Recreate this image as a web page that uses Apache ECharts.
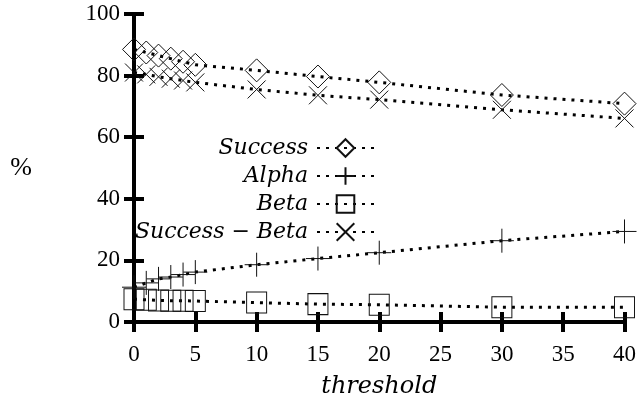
<!DOCTYPE html>
<html>
<head>
<meta charset="utf-8">
<script src="https://cdn.jsdelivr.net/npm/echarts@6/dist/echarts.min.js"></script>
<style>
html,body{margin:0;padding:0;background:#fff;}
#chart{width:639px;height:404px;}
</style>
</head>
<body>
<div id="chart"></div>
<script>
const thresholds = [0, 1, 2, 3, 4, 5, 10, 15, 20, 30, 40];
const success = [88.5, 87.5, 86.5, 85.5, 84.5, 83.5, 81.7, 79.7, 77.8, 73.7, 70.9];
const alpha = [11.3, 12.7, 14.0, 14.6, 15.4, 16.2, 18.6, 20.6, 22.5, 26.4, 29.4];
const beta = [7.4, 7.2, 7.0, 6.9, 6.9, 6.8, 6.3, 5.8, 5.6, 4.8, 4.8];
const successMinusBeta = [81.0, 80.4, 79.6, 79.0, 78.4, 77.8, 75.5, 73.6, 72.2, 68.9, 66.1];
const xTicks = [0, 5, 10, 15, 20, 25, 30, 35, 40];
const yTicks = [0, 20, 40, 60, 80, 100];

const names = ['Success', 'Alpha', 'Beta', 'Success \u2212 Beta'];
const values = [success, alpha, beta, successMinusBeta];
const symbols = ['diamond', 'path://M5,0L5,10M0,5L10,5', 'rect', 'path://M0,0L10,10M10,0L0,10'];
const sizes = [[23, 23], 24, [20, 21], 18];

const serif = '"Liberation Serif", "DejaVu Serif", serif';
const wideSerif = '"DejaVu Serif", serif';
const chart = echarts.init(document.getElementById('chart'));

const series = names.map((n, i) => ({
  name: n,
  type: 'line',
  data: thresholds.map((t, k) => [t, values[i][k]]),
  symbol: symbols[i],
  symbolSize: sizes[i],
  showAllSymbol: true,
  itemStyle: {color: 'rgba(0,0,0,0)', borderColor: '#111', borderWidth: 1},
  lineStyle: {color: '#000', width: 3, type: [3, 6], cap: 'butt'},
  emphasis: {disabled: true},
  z: 3
}));

const legendRows = [143, 171, 199, 227];
const legends = names.map((n, i) => ({
  data: [n],
  right: 259,
  top: legendRows[i] - 11,
  align: 'right',
  itemWidth: 57,
  itemHeight: 22,
  selectedMode: false,
  textStyle: {fontFamily: wideSerif, fontStyle: 'italic', fontSize: 22, color: '#000', padding: [0, 4, 0, 0]}
}));

const axisLine = {show: true, lineStyle: {color: '#000', width: 4}};
const tickStyle = {show: true, inside: true, length: 10, lineStyle: {color: '#000', width: 4}};

chart.setOption({
  animation: false,
  backgroundColor: '#fff',
  grid: {left: 134, right: 13, top: 14, bottom: 74},
  legend: legends,
  xAxis: [{
    type: 'value', min: 0, max: 40, interval: 5,
    name: 'threshold', nameLocation: 'middle', nameGap: 53,
    nameTextStyle: {fontFamily: wideSerif, fontStyle: 'italic', fontSize: 24, color: '#000'},
    axisLine: axisLine, axisTick: tickStyle, splitLine: {show: false},
    axisLabel: {fontFamily: serif, fontSize: 23, color: '#000', margin: 21,
      formatter: v => xTicks.includes(v) ? String(v) : ''}
  }, {
    type: 'value', position: 'top', min: 0, max: 40, interval: 5,
    axisLine: axisLine, axisTick: tickStyle, axisLabel: {show: false}, splitLine: {show: false}
  }],
  yAxis: [{
    type: 'value', min: 0, max: 100, interval: 20,
    name: '%', nameLocation: 'middle', nameGap: 102, nameRotate: 0,
    nameTextStyle: {fontFamily: serif, fontSize: 26, color: '#000'},
    axisLine: axisLine, axisTick: tickStyle, splitLine: {show: false},
    axisLabel: {fontFamily: serif, fontSize: 23, color: '#000', margin: 14,
      formatter: v => yTicks.includes(v) ? String(v) : ''}
  }, {
    type: 'value', position: 'right', min: 0, max: 100, interval: 20,
    axisLine: axisLine, axisTick: tickStyle, axisLabel: {show: false}, splitLine: {show: false}
  }],
  series: series
});
</script>
</body>
</html>
